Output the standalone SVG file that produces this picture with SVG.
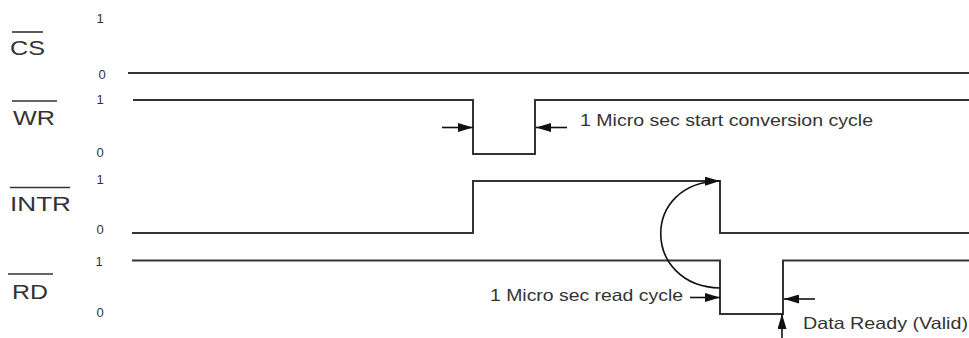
<svg xmlns="http://www.w3.org/2000/svg" width="969" height="338" viewBox="0 0 969 338">
  <defs>
    <marker id="ah" markerUnits="userSpaceOnUse" markerWidth="15" markerHeight="9" refX="15" refY="4.5" orient="auto">
      <path d="M0,0 L15,4.5 L0,9 z" fill="#111"/>
    </marker>
  </defs>
  <style>
    .sig { fill: none; stroke: #333; stroke-width: 2; }
    .ovl { stroke: #333; stroke-width: 1.6; }
    .lbl { font-family: "Liberation Sans", Arial, sans-serif; font-size: 21px; fill: #333; }
    .lvl { font-family: "Liberation Sans", Arial, sans-serif; font-size: 13px; fill: #333; text-anchor: middle; }
    .note { font-family: "Liberation Sans", Arial, sans-serif; font-size: 16.5px; fill: #333; }
    .arr { fill: none; stroke: #111; stroke-width: 1.6; marker-end: url(#ah); }
  </style>
  <rect width="969" height="338" fill="#ffffff"/>

  <g id="cs">
    <line class="ovl" x1="12" y1="32" x2="43" y2="32"/>
    <text class="lbl" x="10" y="55" textLength="35" lengthAdjust="spacingAndGlyphs">CS</text>
    <text class="lvl" x="100" y="22.5">1</text>
    <text class="lvl" x="102" y="78.5">0</text>
    <path class="sig" d="M128,73 H969"/>
  </g>

  <g id="wr">
    <line class="ovl" x1="12" y1="101" x2="57" y2="101"/>
    <text class="lbl" x="13" y="125" textLength="42" lengthAdjust="spacingAndGlyphs">WR</text>
    <text class="lvl" x="100" y="104">1</text>
    <text class="lvl" x="100" y="157">0</text>
    <path class="sig" d="M133,100 H473 V154 H535 V100 H969"/>
  </g>

  <g id="intr">
    <line class="ovl" x1="10" y1="187.5" x2="70" y2="187.5"/>
    <text class="lbl" x="10" y="211" textLength="61" lengthAdjust="spacingAndGlyphs">INTR</text>
    <text class="lvl" x="100" y="183.5">1</text>
    <text class="lvl" x="100" y="234">0</text>
    <path class="sig" d="M132,233 H473 V181 H720 V233 H969"/>
  </g>

  <g id="rd">
    <line class="ovl" x1="8" y1="274" x2="53" y2="274"/>
    <text class="lbl" x="12" y="298.5" textLength="36" lengthAdjust="spacingAndGlyphs">RD</text>
    <text class="lvl" x="99" y="265.5">1</text>
    <text class="lvl" x="100" y="316.5">0</text>
    <path class="sig" d="M132,260.5 H720 V314 H783 V260.5 H969"/>
  </g>

  <g id="connectors">
    <line class="arr" x1="442" y1="127.5" x2="473" y2="127.5"/>
    <line class="arr" x1="567" y1="127.5" x2="536" y2="127.5"/>
    <path class="arr" d="M720,288 C642,286 640,182 720,181"/>
    <line class="arr" x1="690" y1="297.5" x2="720" y2="297.5"/>
    <line class="arr" x1="815" y1="299" x2="784" y2="299"/>
    <line class="arr" x1="782" y1="338" x2="782" y2="314"/>
  </g>

  <g id="notes">
    <text class="note" x="580" y="125.5" textLength="293" lengthAdjust="spacingAndGlyphs">1 Micro sec start conversion cycle</text>
    <text class="note" x="490" y="300.5" textLength="193" lengthAdjust="spacingAndGlyphs">1 Micro sec read cycle</text>
    <text class="note" x="803" y="329" textLength="165" lengthAdjust="spacingAndGlyphs">Data Ready (Valid)</text>
  </g>
</svg>
